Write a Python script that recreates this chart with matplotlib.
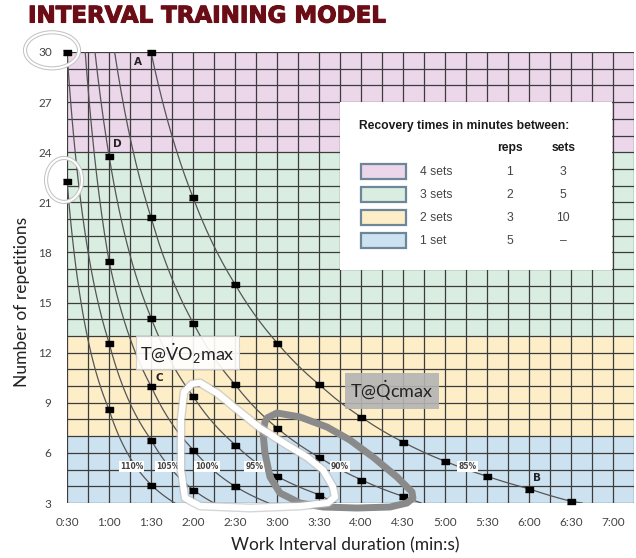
import matplotlib
matplotlib.use('Agg')
import matplotlib.pyplot as plt
import matplotlib.patheffects as pe
import numpy as np
from matplotlib.patches import Rectangle, Ellipse, Polygon

plt.rcParams['mathtext.fontset'] = 'custom'
plt.rcParams['mathtext.rm'] = 'Lato'
plt.rcParams['mathtext.it'] = 'Lato:italic'

# ---- data (time in seconds, reps) ----
curve_names = ['110%', '105%', '100%', '95%', '90%', '85%']
marker_times = {
    '110%': [30, 60, 90],
    '105%': [30, 60, 90, 120],
    '100%': [60, 90, 120, 150],
    '95%': [60, 90, 120, 150, 180, 210],
    '90%': [90, 120, 150, 180, 210, 240, 270],
    '85%': [90, 120, 150, 180, 210, 240, 270, 300, 330, 360, 390],
}
marker_reps = {
    '110%': [22.3, 8.6, 4.1],
    '105%': [30, 12.6, 6.8, 3.8],
    '100%': [17.5, 10.0, 6.2, 4.0],
    '95%': [23.8, 14.1, 9.4, 6.5, 4.6, 3.5],
    '90%': [20.1, 13.8, 10.1, 7.5, 5.75, 4.4, 3.4],
    '85%': [30, 21.3, 16.1, 12.6, 10.1, 8.15, 6.65, 5.5, 4.6, 3.85, 3.1],
}
# where each line leaves the grid (top / bottom edge)
line_top = {'100%': (43, 30), '95%': (50, 30), '90%': (64, 30)}
line_bottom = {'110%': (107, 3), '105%': (135, 3), '100%': (174, 3),
               '95%': (222, 3), '90%': (283, 3), '85%': (398, 3)}
pct_label_t = [76, 102, 130, 164, 225, 316]
pct_label_r = [5.2, 5.2, 5.2, 5.2, 5.2, 5.2]

point_letters = ['A', 'B', 'C', 'D']
letter_t = [81, 366, 96, 66]
letter_r = [29.4, 4.5, 10.5, 24.5]

band_names = ['1 set', '2 sets', '3 sets', '4 sets']
band_low = [3, 7, 13, 24]
band_high = [7, 13, 24, 30]
band_colors = ['#cde2f0', '#fdeec8', '#d9eee1', '#ecd6ea']
rest_reps = ['5', '3', '2', '1']
rest_sets = ['–', '10', '5', '3']

xtick_vals = list(range(30, 421, 30))
xtick_labels = ['0:30', '1:00', '1:30', '2:00', '2:30', '3:00', '3:30', '4:00',
                '4:30', '5:00', '5:30', '6:00', '6:30', '7:00']
ytick_vals = list(range(3, 31, 3))

# hand-drawn loops (data coords)
white_loop = [(125, 10.19), (137, 9.59), (153.6, 8.45), (167.9, 7.49), (187.1, 6.47),
              (201.4, 5.75), (212.9, 4.98), (220, 3.96), (221.4, 3.36), (216.4, 3.0),
              (196.4, 2.82), (160.7, 2.70), (125, 2.82), (114.3, 3.30), (111.4, 4.98),
              (111.4, 7.97), (113.6, 9.65), (119.3, 10.13)]
gray_loop = [(172.9, 8.09), (180, 8.39), (196.4, 8.15), (215.7, 7.55), (232.1, 6.77),
             (248.6, 5.75), (265.7, 4.56), (276.4, 3.66), (277.1, 3.30), (272.9, 3.0),
             (260.7, 2.76), (237.1, 2.70), (212.9, 2.76), (196.4, 3.0), (182.1, 3.60),
             (175, 4.56), (171.4, 5.99), (170, 7.19), (171.4, 7.85)]


def smooth(ts, rs, n=30):
    # power-law segments between points (straight in log-log space)
    xs, ys = [ts[0]], [rs[0]]
    for i in range(len(ts) - 1):
        u = np.linspace(0, 1, n)[1:]
        lt = np.log(ts[i]) + u * (np.log(ts[i + 1]) - np.log(ts[i]))
        lr = np.log(rs[i]) + u * (np.log(rs[i + 1]) - np.log(rs[i]))
        xs.extend(np.exp(lt))
        ys.extend(np.exp(lr))
    return xs, ys


fig = plt.figure(figsize=(6.36, 5.58), dpi=100)
ax = fig.add_axes([67 / 636, 1 - 503 / 558, 567 / 636, 451 / 558])
ax.set_xlim(30, 435)
ax.set_ylim(3, 30)

for lo, hi, c in zip(band_low, band_high, band_colors):
    ax.axhspan(lo, hi, color=c, zorder=0, lw=0)

ax.set_xticks(xtick_vals)
ax.set_xticklabels(xtick_labels)
ax.set_xticks(np.arange(30, 436, 15), minor=True)
ax.set_yticks(ytick_vals)
ax.set_yticks(np.arange(3, 31, 1), minor=True)
ax.grid(which='both', color='#3c3c3c', lw=0.9, zorder=1)
ax.set_axisbelow(True)
for s in ax.spines.values():
    s.set_visible(False)
ax.tick_params(which='both', length=0)
ax.tick_params(axis='y', pad=11, labelsize=8.5, labelcolor='#444444')
ax.tick_params(axis='x', pad=10, labelsize=8.5, labelcolor='#444444')
for lab in ax.get_xticklabels() + ax.get_yticklabels():
    lab.set_fontfamily('Lato')

ax.set_xlabel('Work Interval duration (min:s)', fontsize=12.5, family='Lato', color='#222222')
ax.xaxis.set_label_coords(0.49, -0.075)
ax.set_ylabel('Number of repetitions', fontsize=12.5, family='Lato', color='#222222')
ax.yaxis.set_label_coords(-0.065, 0.446)

# curves and markers
rect_marker = [(-1.5, -1), (1.5, -1), (1.5, 1), (-1.5, 1)]
for name in curve_names:
    ts = list(marker_times[name])
    rs = list(marker_reps[name])
    if name in line_top:
        ts = [line_top[name][0]] + ts
        rs = [line_top[name][1]] + rs
    ts = ts + [line_bottom[name][0]]
    rs = rs + [line_bottom[name][1]]
    xs, ys = smooth(ts, rs)
    ax.plot(xs, ys, color='#555555', lw=0.9, zorder=2)
    ax.plot(marker_times[name], marker_reps[name], ls='none', marker=rect_marker,
            ms=5.4, color='black', zorder=6, clip_on=False)

for name, t, r in zip(curve_names, pct_label_t, pct_label_r):
    ax.text(t, r, name, fontsize=5.5, ha='center', va='center', color='#444444',
            family='DejaVu Sans', weight='bold', zorder=7,
            bbox=dict(boxstyle='square,pad=0.15', fc='white', ec='none'))

for s, t, r in zip(point_letters, letter_t, letter_r):
    ax.text(t, r, s, fontsize=7.5, weight='bold', ha='center', va='center',
            color='#222222', zorder=7)

# legend table
ax.add_patch(Rectangle((0.4815, 0.5166), 0.4797, 0.3724, transform=ax.transAxes,
                       fc='white', ec='none', zorder=3))
ax.text(0.515, 0.836, 'Recovery times in minutes between:', transform=ax.transAxes,
        fontsize=8.7, weight='bold', family='Liberation Sans', va='center', zorder=4,
        color='#1a1a1a')
ax.text(0.781, 0.787, 'reps', transform=ax.transAxes, fontsize=8.7, weight='bold',
        family='Liberation Sans', ha='center', va='center', zorder=4, color='#1a1a1a')
ax.text(0.875, 0.787, 'sets', transform=ax.transAxes, fontsize=8.7, weight='bold',
        family='Liberation Sans', ha='center', va='center', zorder=4, color='#1a1a1a')
row_y = [0.581, 0.632, 0.683, 0.734]
for i in range(len(band_names)):
    y = row_y[i]
    ax.add_patch(Rectangle((0.5185, y - 0.0166), 0.0795, 0.0333, transform=ax.transAxes,
                           fc=band_colors[i], ec='#6d8798', lw=1.6, zorder=4))
    ax.text(0.6226, y, band_names[i], transform=ax.transAxes, fontsize=8.7,
            family='Liberation Sans', va='center', color='#444444', zorder=4)
    ax.text(0.781, y, rest_reps[i], transform=ax.transAxes, fontsize=8.7,
            family='Liberation Sans', ha='center', va='center', color='#444444', zorder=4)
    ax.text(0.875, y, rest_sets[i], transform=ax.transAxes, fontsize=8.7,
            family='Liberation Sans', ha='center', va='center', color='#444444', zorder=4)

# annotation boxes
ax.text(116, 12.0, r'T@$\dot{\mathrm{V}}$O$_2$max', fontsize=13, ha='center', va='center',
        family='Lato', color='#222222', zorder=8,
        bbox=dict(boxstyle='square,pad=0.25', fc='white', ec='#d0d0d0', lw=0.8, alpha=0.9))
ax.text(262, 9.7, r'T@$\dot{\mathrm{Q}}$cmax', fontsize=13, ha='center', va='center',
        family='Lato', color='#222222', zorder=8,
        bbox=dict(boxstyle='square,pad=0.3', fc='#b4b4b4', ec='none', alpha=0.9))

# hand drawn loops
ax.add_patch(Polygon(gray_loop, closed=True, fill=False, ec='#8a8a8a', lw=5,
                     joinstyle='round', zorder=9, clip_on=False))
ax.add_patch(Polygon(white_loop, closed=True, fill=False, ec='#bbbbbb', lw=6.5,
                     joinstyle='round', zorder=9, clip_on=False, alpha=0.6))
ax.add_patch(Polygon(white_loop, closed=True, fill=False, ec='white', lw=4.5,
                     joinstyle='round', zorder=10, clip_on=False))

# circles at the top-left
for cx, cy, w, h in [(19.3, 30.1, 38.6, 2.16), (27.9, 22.34, 25.7, 2.63)]:
    ax.add_patch(Ellipse((cx, cy), w, h, fill=False, ec='#c4c4c4', lw=3, zorder=9,
                         clip_on=False))
    ax.add_patch(Ellipse((cx, cy), w, h, fill=False, ec='white', lw=1.5, zorder=9,
                         clip_on=False))

fig.text(28 / 636, 1 - 16 / 558, 'INTERVAL TRAINING MODEL', fontsize=16.5, weight='bold',
         family='DejaVu Sans', color='#6b0d16', ha='left', va='center',
         path_effects=[pe.withStroke(linewidth=0.8, foreground='#6b0d16')])

fig.savefig('out.png', dpi=100)
